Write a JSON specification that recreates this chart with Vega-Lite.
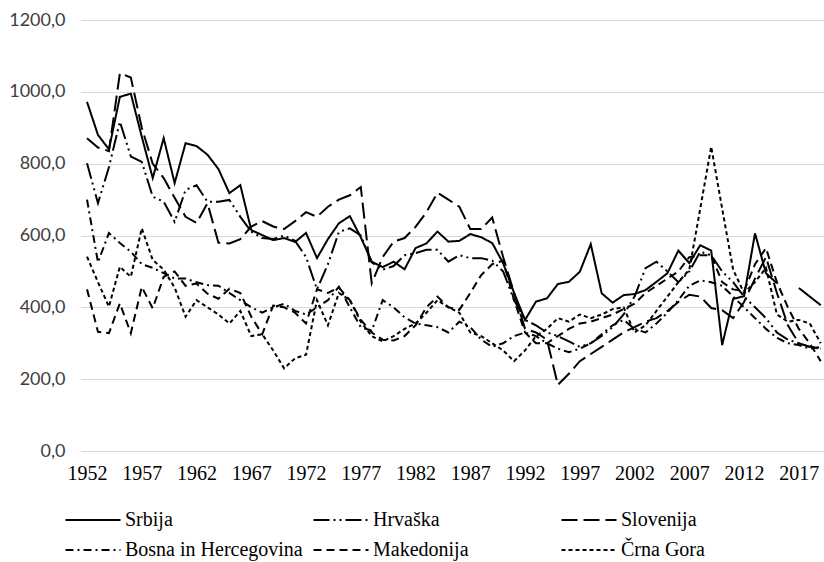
{
"$schema":"https://vega.github.io/schema/vega-lite/v6.json",
"width":743,"height":431,
"autosize":{"type":"none"},
"padding":{"left":81,"top":20,"right":0,"bottom":111},
"background":"white",
"config":{"view":{"stroke":null},"font":"Liberation Serif","legend":{"labelFont":"Liberation Serif","labelFontSize":20,"labelColor":"black"}},
"data":{"values":[
{"c":"Srbija","y":1952,"v":972},{"c":"Srbija","y":1953,"v":880},{"c":"Srbija","y":1954,"v":840},{"c":"Srbija","y":1955,"v":986},{"c":"Srbija","y":1956,"v":995},{"c":"Srbija","y":1957,"v":875},{"c":"Srbija","y":1958,"v":760},{"c":"Srbija","y":1959,"v":871},{"c":"Srbija","y":1960,"v":746},{"c":"Srbija","y":1961,"v":857},
{"c":"Srbija","y":1962,"v":849},{"c":"Srbija","y":1963,"v":825},{"c":"Srbija","y":1964,"v":785},{"c":"Srbija","y":1965,"v":718},{"c":"Srbija","y":1966,"v":740},{"c":"Srbija","y":1967,"v":615},{"c":"Srbija","y":1968,"v":601},{"c":"Srbija","y":1969,"v":587},{"c":"Srbija","y":1970,"v":593},{"c":"Srbija","y":1971,"v":582},
{"c":"Srbija","y":1972,"v":607},{"c":"Srbija","y":1973,"v":537},{"c":"Srbija","y":1974,"v":590},{"c":"Srbija","y":1975,"v":634},{"c":"Srbija","y":1976,"v":654},{"c":"Srbija","y":1977,"v":595},{"c":"Srbija","y":1978,"v":527},{"c":"Srbija","y":1979,"v":512},{"c":"Srbija","y":1980,"v":527},{"c":"Srbija","y":1981,"v":506},
{"c":"Srbija","y":1982,"v":565},{"c":"Srbija","y":1983,"v":578},{"c":"Srbija","y":1984,"v":611},{"c":"Srbija","y":1985,"v":583},{"c":"Srbija","y":1986,"v":585},{"c":"Srbija","y":1987,"v":604},{"c":"Srbija","y":1988,"v":595},{"c":"Srbija","y":1989,"v":579},{"c":"Srbija","y":1990,"v":523},{"c":"Srbija","y":1991,"v":440},
{"c":"Srbija","y":1992,"v":365},{"c":"Srbija","y":1993,"v":416},{"c":"Srbija","y":1994,"v":425},{"c":"Srbija","y":1995,"v":465},{"c":"Srbija","y":1996,"v":471},{"c":"Srbija","y":1997,"v":499},{"c":"Srbija","y":1998,"v":576},{"c":"Srbija","y":1999,"v":439},{"c":"Srbija","y":2000,"v":413},{"c":"Srbija","y":2001,"v":434},
{"c":"Srbija","y":2002,"v":437},{"c":"Srbija","y":2003,"v":448},{"c":"Srbija","y":2004,"v":471},{"c":"Srbija","y":2005,"v":495},{"c":"Srbija","y":2006,"v":558},{"c":"Srbija","y":2007,"v":523},{"c":"Srbija","y":2008,"v":573},{"c":"Srbija","y":2009,"v":558},{"c":"Srbija","y":2010,"v":295},{"c":"Srbija","y":2011,"v":423},
{"c":"Srbija","y":2012,"v":431},{"c":"Srbija","y":2013,"v":606},{"c":"Srbija","y":2014,"v":495},{"c":"Srbija","y":2015,"v":467},{"c":"Srbija","y":2016,"v":null},{"c":"Srbija","y":2017,"v":454},{"c":"Srbija","y":2018,"v":430},{"c":"Srbija","y":2019,"v":406},
{"c":"Hrvaška","y":1952,"v":801},{"c":"Hrvaška","y":1953,"v":690},{"c":"Hrvaška","y":1954,"v":790},{"c":"Hrvaška","y":1955,"v":917},{"c":"Hrvaška","y":1956,"v":820},{"c":"Hrvaška","y":1957,"v":805},{"c":"Hrvaška","y":1958,"v":708},{"c":"Hrvaška","y":1959,"v":694},{"c":"Hrvaška","y":1960,"v":638},{"c":"Hrvaška","y":1961,"v":727},
{"c":"Hrvaška","y":1962,"v":740},{"c":"Hrvaška","y":1963,"v":694},{"c":"Hrvaška","y":1964,"v":694},{"c":"Hrvaška","y":1965,"v":699},{"c":"Hrvaška","y":1966,"v":652},{"c":"Hrvaška","y":1967,"v":611},{"c":"Hrvaška","y":1968,"v":593},{"c":"Hrvaška","y":1969,"v":590},{"c":"Hrvaška","y":1970,"v":600},{"c":"Hrvaška","y":1971,"v":585},
{"c":"Hrvaška","y":1972,"v":540},{"c":"Hrvaška","y":1973,"v":450},{"c":"Hrvaška","y":1974,"v":520},{"c":"Hrvaška","y":1975,"v":610},{"c":"Hrvaška","y":1976,"v":620},{"c":"Hrvaška","y":1977,"v":600},{"c":"Hrvaška","y":1978,"v":525},{"c":"Hrvaška","y":1979,"v":505},{"c":"Hrvaška","y":1980,"v":515},{"c":"Hrvaška","y":1981,"v":545},
{"c":"Hrvaška","y":1982,"v":551},{"c":"Hrvaška","y":1983,"v":560},{"c":"Hrvaška","y":1984,"v":560},{"c":"Hrvaška","y":1985,"v":527},{"c":"Hrvaška","y":1986,"v":545},{"c":"Hrvaška","y":1987,"v":537},{"c":"Hrvaška","y":1988,"v":537},{"c":"Hrvaška","y":1989,"v":530},{"c":"Hrvaška","y":1990,"v":500},{"c":"Hrvaška","y":1991,"v":420},
{"c":"Hrvaška","y":1992,"v":365},{"c":"Hrvaška","y":1993,"v":350},{"c":"Hrvaška","y":1994,"v":330},{"c":"Hrvaška","y":1995,"v":320},{"c":"Hrvaška","y":1996,"v":305},{"c":"Hrvaška","y":1997,"v":290},{"c":"Hrvaška","y":1998,"v":300},{"c":"Hrvaška","y":1999,"v":320},{"c":"Hrvaška","y":2000,"v":345},{"c":"Hrvaška","y":2001,"v":380},
{"c":"Hrvaška","y":2002,"v":430},{"c":"Hrvaška","y":2003,"v":509},{"c":"Hrvaška","y":2004,"v":527},{"c":"Hrvaška","y":2005,"v":500},{"c":"Hrvaška","y":2006,"v":470},{"c":"Hrvaška","y":2007,"v":500},{"c":"Hrvaška","y":2008,"v":555},{"c":"Hrvaška","y":2009,"v":545},{"c":"Hrvaška","y":2010,"v":500},{"c":"Hrvaška","y":2011,"v":470},
{"c":"Hrvaška","y":2012,"v":430},{"c":"Hrvaška","y":2013,"v":400},{"c":"Hrvaška","y":2014,"v":370},{"c":"Hrvaška","y":2015,"v":330},{"c":"Hrvaška","y":2016,"v":310},{"c":"Hrvaška","y":2017,"v":300},{"c":"Hrvaška","y":2018,"v":290},{"c":"Hrvaška","y":2019,"v":285},
{"c":"Slovenija","y":1952,"v":871},{"c":"Slovenija","y":1953,"v":845},{"c":"Slovenija","y":1954,"v":835},{"c":"Slovenija","y":1955,"v":1052},{"c":"Slovenija","y":1956,"v":1040},{"c":"Slovenija","y":1957,"v":900},{"c":"Slovenija","y":1958,"v":800},{"c":"Slovenija","y":1959,"v":760},{"c":"Slovenija","y":1960,"v":705},{"c":"Slovenija","y":1961,"v":652},
{"c":"Slovenija","y":1962,"v":635},{"c":"Slovenija","y":1963,"v":690},{"c":"Slovenija","y":1964,"v":580},{"c":"Slovenija","y":1965,"v":578},{"c":"Slovenija","y":1966,"v":590},{"c":"Slovenija","y":1967,"v":625},{"c":"Slovenija","y":1968,"v":640},{"c":"Slovenija","y":1969,"v":625},{"c":"Slovenija","y":1970,"v":618},{"c":"Slovenija","y":1971,"v":640},
{"c":"Slovenija","y":1972,"v":665},{"c":"Slovenija","y":1973,"v":652},{"c":"Slovenija","y":1974,"v":680},{"c":"Slovenija","y":1975,"v":700},{"c":"Slovenija","y":1976,"v":712},{"c":"Slovenija","y":1977,"v":735},{"c":"Slovenija","y":1978,"v":467},{"c":"Slovenija","y":1979,"v":540},{"c":"Slovenija","y":1980,"v":583},{"c":"Slovenija","y":1981,"v":593},
{"c":"Slovenija","y":1982,"v":624},{"c":"Slovenija","y":1983,"v":665},{"c":"Slovenija","y":1984,"v":719},{"c":"Slovenija","y":1985,"v":700},{"c":"Slovenija","y":1986,"v":680},{"c":"Slovenija","y":1987,"v":618},{"c":"Slovenija","y":1988,"v":618},{"c":"Slovenija","y":1989,"v":650},{"c":"Slovenija","y":1990,"v":540},{"c":"Slovenija","y":1991,"v":440},
{"c":"Slovenija","y":1992,"v":340},{"c":"Slovenija","y":1993,"v":330},{"c":"Slovenija","y":1994,"v":310},{"c":"Slovenija","y":1995,"v":184},{"c":"Slovenija","y":1996,"v":215},{"c":"Slovenija","y":1997,"v":250},{"c":"Slovenija","y":1998,"v":270},{"c":"Slovenija","y":1999,"v":290},{"c":"Slovenija","y":2000,"v":310},{"c":"Slovenija","y":2001,"v":330},
{"c":"Slovenija","y":2002,"v":345},{"c":"Slovenija","y":2003,"v":360},{"c":"Slovenija","y":2004,"v":370},{"c":"Slovenija","y":2005,"v":390},{"c":"Slovenija","y":2006,"v":415},{"c":"Slovenija","y":2007,"v":435},{"c":"Slovenija","y":2008,"v":430},{"c":"Slovenija","y":2009,"v":398},{"c":"Slovenija","y":2010,"v":392},{"c":"Slovenija","y":2011,"v":370},
{"c":"Slovenija","y":2012,"v":415},{"c":"Slovenija","y":2013,"v":480},{"c":"Slovenija","y":2014,"v":540},{"c":"Slovenija","y":2015,"v":440},{"c":"Slovenija","y":2016,"v":350},{"c":"Slovenija","y":2017,"v":300},{"c":"Slovenija","y":2018,"v":290},{"c":"Slovenija","y":2019,"v":285},
{"c":"Bosna in Hercegovina","y":1952,"v":700},{"c":"Bosna in Hercegovina","y":1953,"v":525},{"c":"Bosna in Hercegovina","y":1954,"v":607},{"c":"Bosna in Hercegovina","y":1955,"v":579},{"c":"Bosna in Hercegovina","y":1956,"v":555},{"c":"Bosna in Hercegovina","y":1957,"v":520},{"c":"Bosna in Hercegovina","y":1958,"v":510},{"c":"Bosna in Hercegovina","y":1959,"v":495},{"c":"Bosna in Hercegovina","y":1960,"v":480},{"c":"Bosna in Hercegovina","y":1961,"v":480},
{"c":"Bosna in Hercegovina","y":1962,"v":470},{"c":"Bosna in Hercegovina","y":1963,"v":462},{"c":"Bosna in Hercegovina","y":1964,"v":460},{"c":"Bosna in Hercegovina","y":1965,"v":440},{"c":"Bosna in Hercegovina","y":1966,"v":420},{"c":"Bosna in Hercegovina","y":1967,"v":400},{"c":"Bosna in Hercegovina","y":1968,"v":385},{"c":"Bosna in Hercegovina","y":1969,"v":400},{"c":"Bosna in Hercegovina","y":1970,"v":410},{"c":"Bosna in Hercegovina","y":1971,"v":390},
{"c":"Bosna in Hercegovina","y":1972,"v":380},{"c":"Bosna in Hercegovina","y":1973,"v":400},{"c":"Bosna in Hercegovina","y":1974,"v":420},{"c":"Bosna in Hercegovina","y":1975,"v":457},{"c":"Bosna in Hercegovina","y":1976,"v":400},{"c":"Bosna in Hercegovina","y":1977,"v":345},{"c":"Bosna in Hercegovina","y":1978,"v":335},{"c":"Bosna in Hercegovina","y":1979,"v":420},{"c":"Bosna in Hercegovina","y":1980,"v":400},{"c":"Bosna in Hercegovina","y":1981,"v":372},
{"c":"Bosna in Hercegovina","y":1982,"v":355},{"c":"Bosna in Hercegovina","y":1983,"v":350},{"c":"Bosna in Hercegovina","y":1984,"v":345},{"c":"Bosna in Hercegovina","y":1985,"v":330},{"c":"Bosna in Hercegovina","y":1986,"v":360},{"c":"Bosna in Hercegovina","y":1987,"v":345},{"c":"Bosna in Hercegovina","y":1988,"v":310},{"c":"Bosna in Hercegovina","y":1989,"v":290},{"c":"Bosna in Hercegovina","y":1990,"v":300},{"c":"Bosna in Hercegovina","y":1991,"v":320},
{"c":"Bosna in Hercegovina","y":1992,"v":330},{"c":"Bosna in Hercegovina","y":1993,"v":320},{"c":"Bosna in Hercegovina","y":1994,"v":300},{"c":"Bosna in Hercegovina","y":1995,"v":285},{"c":"Bosna in Hercegovina","y":1996,"v":275},{"c":"Bosna in Hercegovina","y":1997,"v":285},{"c":"Bosna in Hercegovina","y":1998,"v":300},{"c":"Bosna in Hercegovina","y":1999,"v":325},{"c":"Bosna in Hercegovina","y":2000,"v":350},{"c":"Bosna in Hercegovina","y":2001,"v":365},
{"c":"Bosna in Hercegovina","y":2002,"v":340},{"c":"Bosna in Hercegovina","y":2003,"v":330},{"c":"Bosna in Hercegovina","y":2004,"v":355},{"c":"Bosna in Hercegovina","y":2005,"v":385},{"c":"Bosna in Hercegovina","y":2006,"v":420},{"c":"Bosna in Hercegovina","y":2007,"v":460},{"c":"Bosna in Hercegovina","y":2008,"v":475},{"c":"Bosna in Hercegovina","y":2009,"v":470},{"c":"Bosna in Hercegovina","y":2010,"v":460},{"c":"Bosna in Hercegovina","y":2011,"v":430},
{"c":"Bosna in Hercegovina","y":2012,"v":400},{"c":"Bosna in Hercegovina","y":2013,"v":370},{"c":"Bosna in Hercegovina","y":2014,"v":340},{"c":"Bosna in Hercegovina","y":2015,"v":315},{"c":"Bosna in Hercegovina","y":2016,"v":300},{"c":"Bosna in Hercegovina","y":2017,"v":295},{"c":"Bosna in Hercegovina","y":2018,"v":285},{"c":"Bosna in Hercegovina","y":2019,"v":290},
{"c":"Makedonija","y":1952,"v":450},{"c":"Makedonija","y":1953,"v":332},{"c":"Makedonija","y":1954,"v":328},{"c":"Makedonija","y":1955,"v":411},{"c":"Makedonija","y":1956,"v":328},{"c":"Makedonija","y":1957,"v":457},{"c":"Makedonija","y":1958,"v":397},{"c":"Makedonija","y":1959,"v":485},{"c":"Makedonija","y":1960,"v":500},{"c":"Makedonija","y":1961,"v":460},
{"c":"Makedonija","y":1962,"v":466},{"c":"Makedonija","y":1963,"v":438},{"c":"Makedonija","y":1964,"v":424},{"c":"Makedonija","y":1965,"v":452},{"c":"Makedonija","y":1966,"v":440},{"c":"Makedonija","y":1967,"v":374},{"c":"Makedonija","y":1968,"v":325},{"c":"Makedonija","y":1969,"v":405},{"c":"Makedonija","y":1970,"v":400},{"c":"Makedonija","y":1971,"v":385},
{"c":"Makedonija","y":1972,"v":355},{"c":"Makedonija","y":1973,"v":450},{"c":"Makedonija","y":1974,"v":440},{"c":"Makedonija","y":1975,"v":455},{"c":"Makedonija","y":1976,"v":420},{"c":"Makedonija","y":1977,"v":365},{"c":"Makedonija","y":1978,"v":330},{"c":"Makedonija","y":1979,"v":310},{"c":"Makedonija","y":1980,"v":308},{"c":"Makedonija","y":1981,"v":320},
{"c":"Makedonija","y":1982,"v":350},{"c":"Makedonija","y":1983,"v":400},{"c":"Makedonija","y":1984,"v":430},{"c":"Makedonija","y":1985,"v":400},{"c":"Makedonija","y":1986,"v":393},{"c":"Makedonija","y":1987,"v":440},{"c":"Makedonija","y":1988,"v":490},{"c":"Makedonija","y":1989,"v":520},{"c":"Makedonija","y":1990,"v":530},{"c":"Makedonija","y":1991,"v":420},
{"c":"Makedonija","y":1992,"v":330},{"c":"Makedonija","y":1993,"v":300},{"c":"Makedonija","y":1994,"v":300},{"c":"Makedonija","y":1995,"v":320},{"c":"Makedonija","y":1996,"v":340},{"c":"Makedonija","y":1997,"v":355},{"c":"Makedonija","y":1998,"v":360},{"c":"Makedonija","y":1999,"v":370},{"c":"Makedonija","y":2000,"v":380},{"c":"Makedonija","y":2001,"v":395},
{"c":"Makedonija","y":2002,"v":410},{"c":"Makedonija","y":2003,"v":440},{"c":"Makedonija","y":2004,"v":460},{"c":"Makedonija","y":2005,"v":480},{"c":"Makedonija","y":2006,"v":500},{"c":"Makedonija","y":2007,"v":540},{"c":"Makedonija","y":2008,"v":545},{"c":"Makedonija","y":2009,"v":545},{"c":"Makedonija","y":2010,"v":470},{"c":"Makedonija","y":2011,"v":450},
{"c":"Makedonija","y":2012,"v":445},{"c":"Makedonija","y":2013,"v":520},{"c":"Makedonija","y":2014,"v":565},{"c":"Makedonija","y":2015,"v":470},{"c":"Makedonija","y":2016,"v":400},{"c":"Makedonija","y":2017,"v":340},{"c":"Makedonija","y":2018,"v":300},{"c":"Makedonija","y":2019,"v":250},
{"c":"Črna Gora","y":1952,"v":541},{"c":"Črna Gora","y":1953,"v":470},{"c":"Črna Gora","y":1954,"v":402},{"c":"Črna Gora","y":1955,"v":513},{"c":"Črna Gora","y":1956,"v":485},{"c":"Črna Gora","y":1957,"v":620},{"c":"Črna Gora","y":1958,"v":532},{"c":"Črna Gora","y":1959,"v":505},{"c":"Črna Gora","y":1960,"v":455},{"c":"Črna Gora","y":1961,"v":374},
{"c":"Črna Gora","y":1962,"v":420},{"c":"Črna Gora","y":1963,"v":400},{"c":"Črna Gora","y":1964,"v":380},{"c":"Črna Gora","y":1965,"v":355},{"c":"Črna Gora","y":1966,"v":390},{"c":"Črna Gora","y":1967,"v":320},{"c":"Črna Gora","y":1968,"v":325},{"c":"Črna Gora","y":1969,"v":280},{"c":"Črna Gora","y":1970,"v":230},{"c":"Črna Gora","y":1971,"v":258},
{"c":"Črna Gora","y":1972,"v":268},{"c":"Črna Gora","y":1973,"v":420},{"c":"Črna Gora","y":1974,"v":350},{"c":"Črna Gora","y":1975,"v":440},{"c":"Črna Gora","y":1976,"v":420},{"c":"Črna Gora","y":1977,"v":360},{"c":"Črna Gora","y":1978,"v":320},{"c":"Črna Gora","y":1979,"v":305},{"c":"Črna Gora","y":1980,"v":320},{"c":"Črna Gora","y":1981,"v":340},
{"c":"Črna Gora","y":1982,"v":355},{"c":"Črna Gora","y":1983,"v":385},{"c":"Črna Gora","y":1984,"v":420},{"c":"Črna Gora","y":1985,"v":400},{"c":"Črna Gora","y":1986,"v":385},{"c":"Črna Gora","y":1987,"v":330},{"c":"Črna Gora","y":1988,"v":320},{"c":"Črna Gora","y":1989,"v":300},{"c":"Črna Gora","y":1990,"v":280},{"c":"Črna Gora","y":1991,"v":250},
{"c":"Črna Gora","y":1992,"v":280},{"c":"Črna Gora","y":1993,"v":320},{"c":"Črna Gora","y":1994,"v":340},{"c":"Črna Gora","y":1995,"v":370},{"c":"Črna Gora","y":1996,"v":360},{"c":"Črna Gora","y":1997,"v":380},{"c":"Črna Gora","y":1998,"v":370},{"c":"Črna Gora","y":1999,"v":380},{"c":"Črna Gora","y":2000,"v":395},{"c":"Črna Gora","y":2001,"v":400},
{"c":"Črna Gora","y":2002,"v":330},{"c":"Črna Gora","y":2003,"v":350},{"c":"Črna Gora","y":2004,"v":390},{"c":"Črna Gora","y":2005,"v":430},{"c":"Črna Gora","y":2006,"v":470},{"c":"Črna Gora","y":2007,"v":505},{"c":"Črna Gora","y":2008,"v":675},{"c":"Črna Gora","y":2009,"v":847},{"c":"Črna Gora","y":2010,"v":675},{"c":"Črna Gora","y":2011,"v":505},
{"c":"Črna Gora","y":2012,"v":440},{"c":"Črna Gora","y":2013,"v":470},{"c":"Črna Gora","y":2014,"v":510},{"c":"Črna Gora","y":2015,"v":380},{"c":"Črna Gora","y":2016,"v":360},{"c":"Črna Gora","y":2017,"v":365},{"c":"Črna Gora","y":2018,"v":355},{"c":"Črna Gora","y":2019,"v":300}
]},
"mark":{"type":"line","strokeWidth":2,"color":"black","invalid":"break-paths-show-domains"},
"encoding":{
"x":{"field":"y","type":"quantitative","scale":{"domain":[1951.45,2019.3],"nice":false,"zero":false},
"axis":{"title":null,"values":[1952,1957,1962,1967,1972,1977,1982,1987,1992,1997,2002,2007,2012,2017],"format":"d","grid":false,"domain":false,"ticks":false,"labelFont":"Liberation Serif","labelFontSize":20,"labelColor":"black","labelPadding":12}},
"y":{"field":"v","type":"quantitative","scale":{"domain":[0,1200],"nice":false},
"axis":{"title":null,"values":[0,200,400,600,800,1000,1200],"labelExpr":"replace(format(datum.value,'.1f'),'.',',')","domain":false,"ticks":false,"gridColor":"#d9d9d9","gridWidth":1,"labelFont":"Lato","labelFontSize":18,"labelColor":"#404040","labelPadding":16}},
"strokeDash":{"field":"c","type":"nominal","sort":null,
"scale":{"domain":["Srbija","Hrvaška","Slovenija","Bosna in Hercegovina","Makedonija","Črna Gora"],"range":[[1,0],[16,4,2,4,2,4],[16,6],[8,4,2,4],[8,5],[4,3]]},
"legend":{"title":null,"orient":"none","legendX":0,"legendY":488,"direction":"horizontal","columns":3,"gridAlign":"all","columnPadding":6,"rowPadding":8,"symbolType":"M-2.5,0H2.5","symbolSize":484,"symbolStrokeWidth":2,"symbolStrokeColor":"black","labelFont":"Liberation Serif","labelFontSize":20,"labelColor":"black","labelOffset":20,"labelLimit":300,
"encode":{"labels":{"update":{"font":{"value":"Liberation Serif"},"fontSize":{"value":20},"fill":{"value":"black"}}}}}}
}
}
